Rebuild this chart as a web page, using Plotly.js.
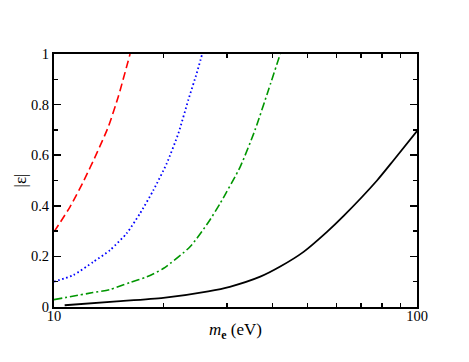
<!DOCTYPE html>
<html>
<head>
<meta charset="utf-8">
<script src="https://cdn.plot.ly/plotly-3.0.1.min.js"></script>
<style>
  html, body { margin: 0; padding: 0; background: #fff; }
  #chart { width: 469px; height: 362px; }
</style>
</head>
<body>
<div id="chart"></div>
<script>
// data (m_e in eV, |eps|)
const redX   = [10, 11.07, 12.04, 13.12, 14.12, 15.04, 16.2];
const redY   = [0.297, 0.396, 0.495, 0.608, 0.713, 0.832, 1.0];

const blueX  = [10, 11.3, 12.83, 14.27, 15.85, 17.26, 18.79, 20.45, 22.02, 23.45, 24.74, 25.6];
const blueY  = [0.1, 0.126, 0.178, 0.225, 0.291, 0.37, 0.462, 0.568, 0.687, 0.819, 0.925, 1.0];

const greenX = [10, 12.8, 14.27, 16.2, 18.0, 20.0, 23.7, 26.6, 28.7, 32.6, 35.8, 39.0, 42.0];
const greenY = [0.029, 0.057, 0.069, 0.097, 0.119, 0.152, 0.238, 0.334, 0.41, 0.555, 0.7, 0.859, 1.0];

const blackX = [10.7, 14.9, 20.0, 26.6, 30.5, 37.0, 42.0, 48.7, 56.5, 62.8, 77.6, 86.2, 100];
const blackY = [0.007, 0.022, 0.036, 0.062, 0.08, 0.12, 0.16, 0.218, 0.297, 0.36, 0.5, 0.58, 0.695];

const xMinorTicks = [20, 30, 40, 50, 60, 70, 80, 90];
const yMinorTicks = [0.1, 0.3, 0.5, 0.7, 0.9];

const serif = 'Liberation Serif, Times New Roman, serif';

function curve(x, y, color, dash, width) {
    return {
        x: x, y: y,
        mode: 'lines',
        line: {color: color, dash: dash, width: width, shape: 'spline', smoothing: 0.6},
        hoverinfo: 'skip'
    };
}

let blackTrace = curve(blackX, blackY, '#000000', 'solid', 1.8);
// black curve sits on the overlay axes so they get drawn (same ranges)
blackTrace.xaxis = 'x2';
blackTrace.yaxis = 'y2';

let traces = [
    curve(redX, redY, '#ff0000', '8px,4px', 1.6),
    curve(blueX, blueY, '#0000ff', '1.6px,2.6px', 1.8),
    curve(greenX, greenY, 'rgb(0,150,0)', '8px,3px,2px,3px', 1.6),
    blackTrace
];

let axisCommon = {
    showline: true,
    linecolor: '#000',
    linewidth: 2,
    mirror: 'allticks',
    ticks: 'inside',
    ticklen: 7,
    tickwidth: 1.5,
    tickcolor: '#000',
    showgrid: false,
    zeroline: false,
    tickfont: {family: serif, size: 14.5, color: '#000'}
};

let layout = {
    width: 469,
    height: 362,
    margin: {l: 54, r: 52, t: 54, b: 55},
    paper_bgcolor: '#fff',
    plot_bgcolor: '#fff',
    showlegend: false,
    xaxis: Object.assign({}, axisCommon, {
        type: 'log',
        range: [1, 2],
        tickvals: [10, 100],
        ticktext: ['10', '100'],
        ticklabelstandoff: -5,
        title: {text: '<i>m</i><sub><b>e</b></sub> (eV)', font: {family: serif, size: 17, color: '#000'}, standoff: 0}
    }),
    yaxis: Object.assign({}, axisCommon, {
        range: [0, 1],
        dtick: 0.2,
        title: {text: '|\u03b5|', font: {family: serif, size: 17, color: '#000'}, standoff: 0}
    }),
    // minor ticks drawn by overlay axes
    xaxis2: Object.assign({}, axisCommon, {
        type: 'log',
        range: [1, 2],
        overlaying: 'x',
        anchor: 'y2',
        side: 'bottom',
        tickvals: xMinorTicks,
        ticklen: 4,
        showticklabels: false
    }),
    yaxis2: Object.assign({}, axisCommon, {
        range: [0, 1],
        overlaying: 'y',
        anchor: 'x2',
        side: 'left',
        tickvals: yMinorTicks,
        ticklen: 4,
        showticklabels: false
    })
};

Plotly.newPlot('chart', traces, layout, {staticPlot: true});
</script>
</body>
</html>
